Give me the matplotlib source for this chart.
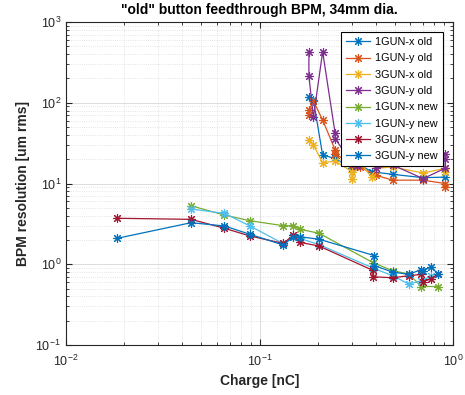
import matplotlib
matplotlib.use("Agg")
import matplotlib.pyplot as plt
from matplotlib.ticker import LogLocator, NullFormatter

plt.rcParams['font.family'] = ['Liberation Sans', 'DejaVu Sans']

# ---- data (charge in nC, resolution in um rms) ----
x_1gx_old = [0.18, 0.19, 0.212, 0.246, 0.30, 0.33, 0.38, 0.487, 0.70, 0.91]
y_1gx_old = [117, 107, 22.5, 20.4, 15.4, 17, 14, 13, 11.8, 12]

x_1gy_old = [0.18, 0.18, 0.19, 0.212, 0.246, 0.246, 0.30, 0.33, 0.398, 0.487, 0.70, 0.91, 0.91]
y_1gy_old = [70, 81, 105, 61, 26, 23.5, 17, 16, 12.7, 11, 11, 10, 9.1]

x_3gx_old = [0.18, 0.19, 0.212, 0.246, 0.30, 0.30, 0.33, 0.38, 0.398, 0.487, 0.70, 0.91, 0.91]
y_3gx_old = [34.4, 30, 18, 19, 14, 11.5, 18, 12, 15.4, 16, 13.5, 15.4, 14]

x_3gy_old = [0.18, 0.18, 0.19, 0.212, 0.246, 0.246, 0.30, 0.318, 0.33, 0.398, 0.398, 0.487, 0.70, 0.91, 0.91, 0.91]
y_3gy_old = [428, 214, 66, 428, 41.7, 36, 18, 16.5, 18, 18, 15.5, 17, 11.5, 15.4, 20, 23]

x_1gx_new = [0.0443, 0.0658, 0.0893, 0.1327, 0.1496, 0.1617, 0.2033, 0.385, 0.488, 0.59, 0.686, 0.836]
y_1gx_new = [5.3, 4.07, 3.46, 3.0, 3.0, 2.71, 2.42, 1.05, 0.83, 0.76, 0.53, 0.53]

x_1gy_new = [0.0443, 0.0658, 0.0893, 0.1327, 0.1496, 0.1617, 0.2033, 0.385, 0.488, 0.59, 0.686, 0.77]
y_1gy_new = [4.83, 4.27, 2.98, 1.8, 2.2, 2.09, 1.75, 0.9, 0.72, 0.57, 0.62, 0.72]

x_3gx_new = [0.0183, 0.0443, 0.0658, 0.0893, 0.1327, 0.1496, 0.1617, 0.2033, 0.385, 0.385, 0.488, 0.59, 0.686, 0.70, 0.77, 0.836]
y_3gx_new = [3.71, 3.6, 2.79, 2.24, 1.81, 2.3, 1.87, 1.68, 0.84, 0.70, 0.68, 0.72, 0.75, 0.61, 0.66, 0.76]

x_3gy_new = [0.0183, 0.0443, 0.0658, 0.0893, 0.1327, 0.1496, 0.1617, 0.2033, 0.392, 0.392, 0.488, 0.59, 0.686, 0.70, 0.77, 0.836]
y_3gy_new = [2.09, 3.27, 2.98, 2.35, 1.73, 2.19, 2.19, 2.04, 1.28, 0.96, 0.80, 0.75, 0.86, 0.83, 0.93, 0.76]

series = [
    ("1GUN-x old", x_1gx_old, y_1gx_old, "#0072BD"),
    ("1GUN-y old", x_1gy_old, y_1gy_old, "#D95319"),
    ("3GUN-x old", x_3gx_old, y_3gx_old, "#EDB120"),
    ("3GUN-y old", x_3gy_old, y_3gy_old, "#7E2F8E"),
    ("1GUN-x new", x_1gx_new, y_1gx_new, "#77AC30"),
    ("1GUN-y new", x_1gy_new, y_1gy_new, "#4DBEEE"),
    ("3GUN-x new", x_3gx_new, y_3gx_new, "#A2142F"),
    ("3GUN-y new", x_3gy_new, y_3gy_new, "#0072BD"),
]

fig = plt.figure(figsize=(4.65, 3.95), dpi=100)
ax = fig.add_axes([66/465, 1-345/395, (453-66)/465, (345-22)/395])

for label, xs, ys, c in series:
    ax.plot(xs, ys, marker=(8, 2, 0), color=c, lw=0.9, ms=6.5, mew=0.8, label=label)

ax.set_xscale('log')
ax.set_yscale('log')
ax.set_xlim(1e-2, 1)
ax.set_ylim(1e-1, 1e3)

ax.xaxis.set_major_locator(LogLocator(base=10, numticks=10))
ax.yaxis.set_major_locator(LogLocator(base=10, numticks=10))
ax.xaxis.set_minor_locator(LogLocator(base=10, subs=range(2, 10), numticks=20))
ax.yaxis.set_minor_locator(LogLocator(base=10, subs=range(2, 10), numticks=20))
ax.xaxis.set_minor_formatter(NullFormatter())
ax.yaxis.set_minor_formatter(NullFormatter())

ax.grid(True, which='major', color='#dcdcdc', lw=0.7, ls='-')
ax.grid(True, which='minor', color='#dcdcdc', lw=0.6, ls=':')
ax.set_axisbelow(True)

axc = '#262626'
for s in ax.spines.values():
    s.set_color(axc)
    s.set_linewidth(0.8)
ax.tick_params(which='both', direction='in', top=True, right=True, colors=axc,
               labelcolor=axc, labelsize=9)
ax.tick_params(which='major', length=4)
ax.tick_params(which='minor', length=2)
ax.tick_params(axis='x', pad=6)

ax.set_xlabel('Charge [nC]', fontsize=10, fontweight='bold', color=axc)
ax.set_ylabel('BPM resolution [um rms]', fontsize=10, fontweight='bold', color=axc)
ax.set_title('"old" button feedthrough BPM, 34mm dia.', fontsize=10,
             fontweight='bold', color='black', pad=6)

leg = ax.legend(loc='upper right', fontsize=7.8, frameon=True, fancybox=False,
                edgecolor='black', framealpha=1, borderaxespad=0.95,
                handlelength=2.2, handletextpad=0.5, labelspacing=0.58,
                borderpad=0.45)
leg.get_frame().set_linewidth(0.8)

fig.savefig('out.png', dpi=100)
